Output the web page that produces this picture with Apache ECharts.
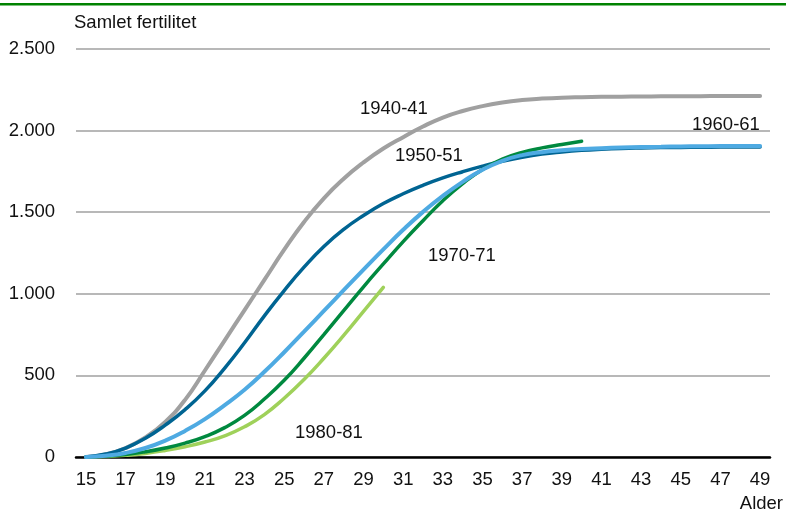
<!DOCTYPE html>
<html><head><meta charset="utf-8">
<script src="https://cdn.jsdelivr.net/npm/echarts@6/dist/echarts.min.js"></script>
<style>html,body{margin:0;padding:0;background:#fff}#c{width:786px;height:516px}</style>
</head><body><div id="c"></div>
<script>
const ages = [];
for (let a = 15; a <= 49; a++) ages.push(String(a));
const s1940 = [0,15,55,120,215,350,530,715,900,1085,1270,1440,1585,1705,1805,1890,1960,2025,2080,2120,2150,2172,2187,2196,2202,2205,2207,2208,2209,2210,2211,2211,2212,2212,2212];
const s1950 = [0,18,55,115,195,290,405,545,700,865,1020,1163,1290,1395,1480,1553,1613,1665,1710,1748,1782,1812,1837,1856,1869,1879,1886,1891,1894,1896,1897,1898,1899,1900,1900];
const s1960 = [0,8,25,55,100,160,232,318,412,522,642,768,895,1022,1148,1272,1392,1502,1600,1686,1760,1815,1850,1868,1879,1887,1892,1896,1899,1901,1903,1904,1905,1905,1905];
const s1970 = [0,5,15,32,55,85,125,180,255,355,470,605,750,897,1043,1183,1320,1448,1570,1675,1762,1825,1866,1894,1915,1935];
const s1980 = [0,3,10,22,40,63,92,130,185,260,360,475,605,745,892,1040];
const seriesNames = ['1940-41','1950-51','1960-61','1970-71','1980-81'];
const yTicks = [0,500,1000,1500,2000,2500];

const FONT = 'Liberation Sans';
const FS = 18.5;
function fmt(v){ return String(v).replace(/\B(?=(\d{3})+(?!\d))/g,'.'); }
const chart = echarts.init(document.getElementById('c'), null, {renderer:'canvas'});
function mk(name, data, color, w, z){
  return {name, type:'line', data, smooth:0.5, symbol:'none', z,
    lineStyle:{color, width:w, cap:'round'}};
}
function lbl(text, left, top){
  return {type:'text', left, top, style:{text, fontSize:FS, fontFamily:FONT, fill:'#111'}};
}
chart.setOption({
  animation:false,
  grid:{left:76, right:16, top:49, bottom:59},
  xAxis:{type:'category', data:ages, boundaryGap:true,
    axisLine:{lineStyle:{color:'#000', width:2.5}},
    axisTick:{show:false},
    axisLabel:{interval:1, color:'#111', fontSize:FS, fontFamily:FONT, margin:13},
    splitLine:{show:false}},
  yAxis:{type:'value', min:0, max:2500, interval:500,
    axisLine:{show:false}, axisTick:{show:false},
    axisLabel:{color:'#111', fontSize:FS, fontFamily:FONT, margin:21, formatter:fmt},
    splitLine:{lineStyle:{color:'#a0a0a0', width:1.5}}},
  series:[
    mk(seriesNames[0], s1940, '#a0a0a0', 4, 2),
    mk(seriesNames[1], s1950, '#006492', 3.5, 3),
    mk(seriesNames[4], s1980, '#9fd15a', 3.5, 4),
    mk(seriesNames[3], s1970, '#00893f', 3.5, 5),
    mk(seriesNames[2], s1960, '#4eaae2', 4, 6)
  ],
  graphic:[
    {type:'rect', left:0, top:3, shape:{width:786, height:2.5}, style:{fill:'#008200'}},
    lbl('Samlet fertilitet', 74, 13),
    {type:'text', right:3, top:494, style:{text:'Alder', fontSize:FS, fontFamily:FONT, fill:'#111'}},
    lbl(seriesNames[0], 360, 99),
    lbl(seriesNames[1], 395, 146),
    lbl(seriesNames[2], 692, 115),
    lbl(seriesNames[3], 428, 246),
    lbl(seriesNames[4], 295, 423)
  ]
});
</script></body></html>
